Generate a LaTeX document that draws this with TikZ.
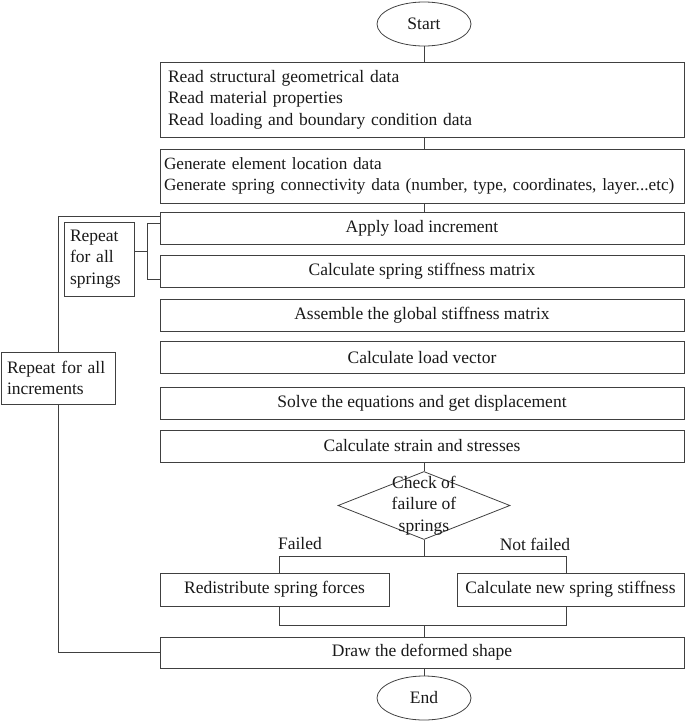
\documentclass[tikz,border=0pt]{standalone}
\usepackage{fontspec}
\setmainfont{Liberation Serif}
\usetikzlibrary{shapes.geometric}
\newcommand{\fs}{\fontsize{17.5}{21.5}\selectfont}
\newcommand{\fsb}{\fontsize{17.2}{21.5}\selectfont}
\begin{document}
\begin{tikzpicture}[x=1pt,y=-1pt,
  line width=0.8pt,
  every node/.style={text=black!90},
  wbox/.style={draw=black!75, rectangle, minimum width=524pt, minimum height=32pt, inner sep=0pt, font=\fs},
  sbox/.style={draw=black!75, rectangle, minimum height=33pt, inner sep=0pt, font=\fs},
  term/.style={draw=black!75, ellipse, minimum width=94pt, minimum height=44pt, inner sep=0pt, font=\fs},
  lbl/.style={draw=black!75, rectangle, inner sep=0pt, font=\fs, align=left},
  txt/.style={inner sep=0pt, font=\fs},
  conn/.style={draw=black!75, line width=0.8pt}
]
\useasboundingbox (0,0) rectangle (685,723);

\node[term] (start) at (424,24) {Start};
\node[wbox, minimum height=75pt, text width=508pt, align=left] (read) at (422,99.5)
  {Read structural geometrical data\\Read material properties\\Read loading and boundary condition data};
\node[wbox, minimum height=54pt, text width=516pt, align=left, font=\fsb] (gen) at (422,176)
  {Generate element location data\\Generate spring connectivity data (number, type, coordinates, layer...etc)};
\node[wbox] (apply) at (422,228.5) {Apply load increment};
\node[wbox] (stiff) at (422,271) {Calculate spring stiffness matrix};
\node[wbox] (assem) at (422,315) {Assemble the global stiffness matrix};
\node[wbox] (loadv) at (422,357.5) {Calculate load vector};
\node[wbox] (solve) at (422,403) {Solve the equations and get displacement};
\node[wbox] (strain) at (422,446) {Calculate strain and stresses};
\node[draw=black!75, diamond, minimum width=172pt, minimum height=68pt, inner sep=0pt] (chk) at (424,505.5) {};
\node[txt, align=center] (chkt) at (424,505.5) {Check of\\failure of\\springs};
\node[txt] (failed) at (300,544) {Failed};
\node[txt] (notf) at (535,544) {Not failed};
\node[sbox, minimum width=229pt] (redis) at (274.5,589.5) {Redistribute spring forces};
\node[sbox, minimum width=227pt] (newk) at (570.5,589.5) {Calculate new spring stiffness};
\node[wbox, minimum height=31pt] (draw) at (422,652.5) {Draw the deformed shape};
\node[term] (end) at (424,698) {End};

\node[lbl, minimum width=70pt, minimum height=74pt, text width=58pt] (rsp) at (99,259) {Repeat\\for all\\springs};
\node[lbl, minimum width=114pt, minimum height=52pt, text width=102pt] (rinc) at (58,378) {Repeat for all\\increments};

% spine
\draw[conn] (start.south) -- (start.south |- read.north);
\draw[conn] (start.south |- read.south) -- (start.south |- gen.north);
\draw[conn] (start.south |- gen.south) -- (start.south |- apply.north);
\draw[conn] (start.south |- strain.south) -- (chk.north);
\coordinate (br) at (424,556);
\coordinate (bl) at (279,556);
\coordinate (brr) at (566,556);
\draw[conn] (chk.south) -- (br);
\draw[conn] (bl |- redis.north) -- (bl) -- (brr) -- (brr |- newk.north);
\coordinate (mg) at (424,625);
\draw[conn] (bl |- redis.south) -- (bl |- mg) -- (brr |- mg) -- (brr |- newk.south);
\draw[conn] (mg) -- (mg |- draw.north);
\draw[conn] (start.south |- draw.south) -- (end.north);

% inner loop (springs)
\coordinate (bx) at (147,251);
\draw[conn] (rsp.east |- bx) -- (bx);
\draw[conn] (apply.west |- 0,223) -- (147,223) -- (147,279) -- (stiff.west |- 0,279);

% outer loop (increments)
\draw[conn] (apply.west |- 0,216) -- (rinc.north |- 0,216) -- (rinc.north);
\draw[conn] (rinc.south) -- (rinc.south |- draw.west) -- (draw.west);
\end{tikzpicture}
\end{document}
